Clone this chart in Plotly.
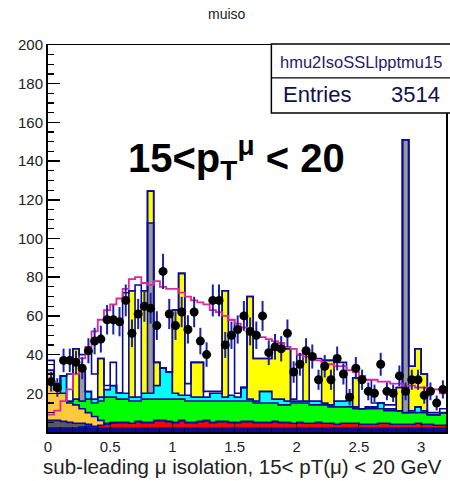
import numpy as np
import plotly.graph_objects as go

# ---------------- data (64 bins of width 0.05 from 0 to 3.2) ----------------
bin_lo = 0.0
bin_w = 0.05
n_bins = 64

navy_bkg = [2, 2, 2, 2, 2, 2, 2, 2,
            2, 2, 2, 2, 2, 2, 2, 2,
            2, 2, 2, 2, 2, 2, 2, 2,
            2, 2, 2, 2, 2, 2, 2, 2,
            2, 2, 2, 2, 2, 2, 2, 2,
            2, 2, 2, 2, 2, 2, 2, 2,
            2, 2, 2, 2, 2, 2, 2, 2,
            2, 2, 2, 2, 2, 2, 2, 2]
red_bkg = [0, 0, 0, 0, 0, 0.5, 1, 1,
           1.5, 2, 2.5, 3, 3, 2.5, 3.5, 3,
           3, 4, 4, 3.5, 3, 4, 3, 3,
           3.5, 4, 3, 3.5, 3.5, 3, 3, 3.5,
           3.5, 3, 3, 3, 3.5, 3, 3, 2.5,
           3, 2.5, 2.5, 3, 2.5, 2.5, 2, 2.5,
           2.5, 2.5, 2, 2, 2, 2.5, 2.5, 2,
           2, 2, 2, 2.5, 2, 2, 1.5, 1.5]
dgray_bkg = [4, 4, 3.5, 3, 2.5, 2, 1, 0,
             0, 0, 0, 0, 0, 0, 0, 0,
             0, 0, 0, 0, 0, 0, 0, 0,
             0, 0, 0, 0, 0, 0, 0, 0,
             0, 0, 0, 0, 0, 0, 0, 0,
             0, 0, 0, 0, 0, 0, 0, 0,
             0, 0, 0, 0, 0, 0, 0, 0,
             0, 0, 0, 0, 0, 0, 0, 0]
orange_bkg = [26, 16, 14.5, 10, 9.5, 7.5, 6, 5,
              2.5, 0.5, 0.5, 0, 0, 0, 0, 0,
              0, 0, 0, 0, 0, 0, 0, 0,
              0, 0, 0, 0, 0, 0, 0, 0,
              0, 0, 0, 0, 0, 0, 0, 0,
              0, 0, 0, 0, 0, 0, 0, 0,
              0, 0, 0, 0, 0, 0, 0, 0,
              0, 0, 0, 0, 0, 0, 0, 0]
green_bkg = [0, 0, 0, 1, 3, 4, 7, 7,
             10, 13.5, 13, 12, 12, 11.5, 10.5, 12,
             12, 11, 11, 11.5, 12, 11, 11, 11,
             10.5, 10, 11, 10.5, 10.5, 11, 11, 10.5,
             10.5, 10, 10, 10, 9.5, 9, 9, 10.5,
             10, 10.5, 9.5, 9, 9.5, 8.5, 9, 8.5,
             8.5, 7.5, 8, 8, 8, 7.5, 6.5, 7,
             7, 6, 6, 5.5, 6, 5, 5.5, 6.5]
cyan_bkg = [0, 0, 9, 0, 0, 0, 4, 2,
            2, 4, 6, 3, 3, 2, 2, 3,
            3, 7, 16, 14, 3, 2, 3, 2,
            2, 2, 4, 4, 2, 3, 2, 7,
            1, 1, 6, 6, 2, 3, 2, 1,
            1, 1, 2, 2, 1, 1, 3, 3,
            5, 1, 0, 1, 1, 3, 1, 1,
            0, 0, 1, 3, 1, 0, 0, 0]
lgray_bkg = [0, 0, 0, 0, 0, 16, 0, 0,
             0, 0, 0, 0, 0, 0, 0, 0,
             88, 0, 0, 0, 0, 0, 0, 0,
             0, 0, 0, 0, 0, 0, 0, 0,
             0, 0, 0, 0, 0, 0, 0, 0,
             0, 0, 0, 0, 0, 0, 0, 0,
             0, 0, 0, 0, 0, 0, 0, 0,
             0, 141, 0, 0, 0, 0, 0, 0]
yellow_bkg = [0, 0, 0, 0, 26, 0, 0, 0,
              20, 0, 0, 0, 0, 55, 0, 53,
              16.5, 12, 0, 0, 43, 63, 0, 18,
              18, 0, 0, 0, 55, 0, 0, 0,
              53, 22, 17, 17, 26, 26, 27, 0,
              0, 26, 0, 0, 22, 23, 0, 0,
              0, 15, 0, 0, 0, 0, 0, 0,
              12, 0, 23, 30, 19, 0, 0, 0]
white_bkg = [5, 3, 0, 14, 0, 8, 21, 13,
             0, 2, 12, 0, 52, 0, 58, 0,
             0, 0, 0, 0, 0, 0, 6, 0,
             0, 3, 1, 1, 0, 39, 2, 0,
             0, 0, 0, 0, 0, 0, 0, 1,
             24, 0, 24, 22, 0, 0, 20, 20,
             0, 0, 15, 14, 2, 0, 2, 2,
             0, 0, 0, 0, 0, 1, 1, 2]

magenta_line = [9, 11, 16, 22, 30, 38, 44, 52,
                58, 63, 66, 69, 74, 79, 80, 77,
                76, 78, 75, 74, 74, 72, 70, 68,
                67, 66, 63, 62, 60, 58, 56, 54,
                52, 50, 49, 48, 47, 46, 44, 43,
                40, 39, 38, 37, 35, 35, 34, 34,
                32, 31, 29, 27, 27, 26, 26, 25,
                25, 24, 24, 23, 23, 22, 22, 20]

data_counts = [26, 23, 37, 37, 36, 33, 42, 47,
               48, 58, 58, 57, 68, 51, 61, 65,
               64, 55, 83, 61, 55, 62, 53, 62,
               47, 40, 68, 68, 45, 50, 53, 60,
               52, 50, 60, 41, 44, 43, 51, 31,
               35, 42, 39, 27, 34, 27, 38, 30,
               18, 33, 27, 21, 20, 35, 21, 20,
               29, 21, 27, 27, 19, 21, 15, 22]

x_ticks = [0, 0.5, 1, 1.5, 2, 2.5, 3]
x_tick_labels = ["0", "0.5", "1", "1.5", "2", "2.5", "3"]
y_ticks = [20, 40, 60, 80, 100, 120, 140, 160, 180, 200]

# ---------------- figure ----------------
W, H = 450, 481
L, R, T, B = 48, 2, 45, 48.5
PW, PH = W - L - R, H - T - B


def px2paper(x, y):
    return (x - L) / PW, (H - B - y) / PH


edges = bin_lo + bin_w * np.arange(n_bins + 1)
centers = edges[:-1] + bin_w / 2


def step_y(vals):
    v = list(vals)
    return v + [v[-1]]


NAVY = "#0a0a9a"
layers = [
    (navy_bkg, "#0a0a9a"),
    (red_bkg, "#ff0000"),
    (dgray_bkg, "#5a5a5a"),
    (orange_bkg, "#ffc93c"),
    (green_bkg, "#00ff00"),
    (cyan_bkg, "#00ffff"),
    (lgray_bkg, "#9a9a9a"),
    (yellow_bkg, "#ffff00"),
    (white_bkg, "#ffffff"),
]

fig = go.Figure()
cum = np.zeros(n_bins)
for i, (vals, col) in enumerate(layers):
    cum = cum + np.array(vals, dtype=float)
    fig.add_trace(go.Scatter(
        x=edges, y=step_y(cum), mode="lines", line_shape="hv",
        line=dict(color=NAVY, width=1.6),
        fill="tozeroy" if i == 0 else "tonexty", fillcolor=col,
        hoverinfo="skip", showlegend=False))

fig.add_trace(go.Scatter(
    x=edges, y=step_y(magenta_line), mode="lines", line_shape="hv",
    line=dict(color="#e0259e", width=1.8), showlegend=False, hoverinfo="skip"))

counts = np.array(data_counts, dtype=float)
fig.add_trace(go.Scatter(
    x=centers, y=counts, mode="markers",
    marker=dict(color="black", size=9, symbol="circle"),
    error_y=dict(type="data", array=np.sqrt(counts), color="#1a22a8",
                 thickness=2, width=0),
    showlegend=False))

shapes = []
annotations = []

# stats box
bx0, by0 = px2paper(272.5, 44)
bx1, by1 = px2paper(460, 113)
_, bys = px2paper(0, 78)
shapes.append(dict(type="rect", xref="paper", yref="paper", x0=bx0, x1=bx1,
                   y0=by1, y1=by0, line=dict(color="black", width=1.5),
                   fillcolor="white", layer="above"))
shapes.append(dict(type="line", xref="paper", yref="paper", x0=bx0, x1=bx1,
                   y0=bys, y1=bys, line=dict(color="black", width=1.2),
                   layer="above"))
ax, ay = px2paper(363, 62)
annotations.append(dict(x=ax, y=ay, xref="paper", yref="paper",
                        text="hmu2IsoSSLlpptmu15", showarrow=False,
                        font=dict(family="Liberation Sans, Arial", size=16.5,
                                  color="#2a1a6a"),
                        xanchor="center", yanchor="middle"))
ax, ay = px2paper(282, 95)
annotations.append(dict(x=ax, y=ay, xref="paper", yref="paper",
                        text="Entries", showarrow=False,
                        font=dict(family="Liberation Sans, Arial", size=22,
                                  color="#10104a"),
                        xanchor="left", yanchor="middle"))
ax, ay = px2paper(444, 95)
annotations.append(dict(x=ax, y=ay, xref="paper", yref="paper",
                        text="3514", showarrow=False,
                        font=dict(family="Liberation Sans, Arial", size=22,
                                  color="#10104a"),
                        xanchor="right", yanchor="middle"))

# title
ax, ay = px2paper(228, 14)
annotations.append(dict(x=ax, y=ay, xref="paper", yref="paper",
                        text="muiso", showarrow=False,
                        font=dict(family="Liberation Sans, Arial", size=14,
                                  color="#222222"),
                        xanchor="center", yanchor="middle"))

# big label
ax, ay = px2paper(126, 158)
annotations.append(dict(x=ax, y=ay, xref="paper", yref="paper",
                        text="<b>15&lt;p<sub>T</sub><sup>μ</sup> &lt; 20</b>",
                        showarrow=False,
                        font=dict(family="Liberation Sans, Arial", size=40,
                                  color="black"),
                        xanchor="left", yanchor="middle"))

# x-axis title
ax, ay = px2paper(446, 467)
annotations.append(dict(x=ax, y=ay, xref="paper", yref="paper",
                        text="sub-leading μ isolation, 15&lt; pT(μ) &lt; 20 GeV",
                        showarrow=False,
                        font=dict(family="Liberation Sans, Arial", size=20.5,
                                  color="#222222"),
                        xanchor="right", yanchor="middle"))

fig.update_layout(
    width=W, height=H,
    margin=dict(l=L, r=R, t=T, b=B, pad=0),
    paper_bgcolor="white", plot_bgcolor="white",
    showlegend=False,
    shapes=shapes, annotations=annotations,
    xaxis=dict(range=[0, 3.2], tickvals=x_ticks, ticktext=x_tick_labels,
               ticks="inside", ticklen=10, tickcolor="black", tickwidth=1,
               minor=dict(ticks="inside", ticklen=5, dtick=0.1,
                          tickcolor="black"),
               showline=True, linecolor="black", linewidth=1.5, mirror=True,
               showgrid=False, zeroline=False,
               tickfont=dict(family="Liberation Sans, Arial", size=15,
                             color="#222222")),
    yaxis=dict(range=[0, 200], tickvals=y_ticks,
               ticks="inside", ticklen=12, tickcolor="black", tickwidth=1.5,
               minor=dict(ticks="inside", ticklen=6, dtick=5,
                          tickcolor="black", tickwidth=1.2),
               showline=True, linecolor="black", linewidth=2, mirror=True,
               showgrid=False, zeroline=False,
               tickfont=dict(family="Liberation Sans, Arial", size=15,
                             color="#222222")),
)

fig.write_html("out.html",
               config={"displayModeBar": False, "staticPlot": True},
               post_script="document.body.style.margin='0';"
                           "document.body.style.overflow='hidden';")
